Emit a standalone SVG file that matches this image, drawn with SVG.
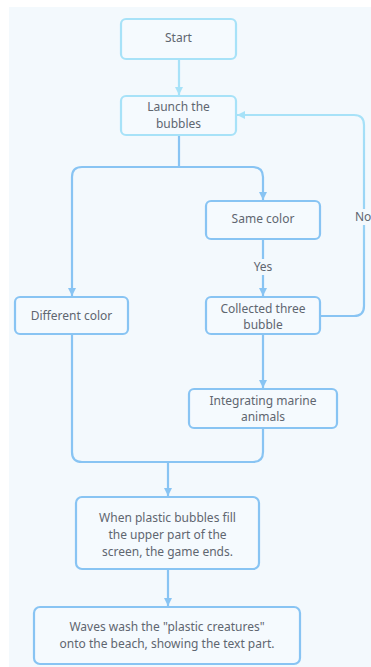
<svg xmlns="http://www.w3.org/2000/svg" width="371" height="667" viewBox="0 0 371 667">
<defs>
<style>
.bg{fill:#f3f9fd}
.n{fill:#f5fafe;stroke:#88c4f3;stroke-width:2.2}
.nc{fill:#f5fafe;stroke:#a7e2f8;stroke-width:2.2}
.c{fill:none;stroke:#88c4f3;stroke-width:2.2}
.cc{fill:none;stroke:#a7e2f8;stroke-width:2.2}
text{font-family:"Noto Sans","Liberation Sans",sans-serif;font-size:12px;fill:#5f6670;text-anchor:middle}
</style>
<marker id="ab" markerWidth="9" markerHeight="8" refX="8" refY="4" orient="auto" markerUnits="userSpaceOnUse">
<path d="M0,0 L8,4 L0,8 Z" fill="#88c4f3"/>
</marker>
<marker id="ac" markerWidth="9" markerHeight="8" refX="8" refY="4" orient="auto" markerUnits="userSpaceOnUse">
<path d="M0,0 L8,4 L0,8 Z" fill="#a7e2f8"/>
</marker>
<linearGradient id="g" x1="0" y1="0" x2="0" y2="1">
<stop offset="0" stop-color="#a7e2f8"/>
<stop offset="1" stop-color="#88c4f3"/>
</linearGradient>
</defs>
<rect x="0" y="0" width="371" height="667" fill="#ffffff"/>
<rect class="bg" x="9" y="7" width="362" height="660"/>
<g id="connectors">
<path class="cc" d="M179,59 V95" marker-end="url(#ac)"/>
<path class="c" d="M179,135 V167 H82 Q72,167 72,177 V296" marker-end="url(#ab)"/>
<path class="c" d="M179,167 H253 Q263,167 263,177 V200" marker-end="url(#ab)"/>
<path class="c" d="M263,239 V296" marker-end="url(#ab)"/>
<rect x="250" y="259" width="26" height="16" class="bg"/>
<text x="263" y="271">Yes</text>
<path d="M320,316 H354 Q364,316 364,306 V125 Q364,115 354,115 H237" fill="none" stroke="url(#g)" stroke-width="2.2" marker-end="url(#ac)"/>
<rect x="354" y="209" width="17" height="16" class="bg"/>
<text x="355" y="221" style="text-anchor:start">No</text>
<path class="c" d="M263,334 V388" marker-end="url(#ab)"/>
<path class="c" d="M72,334 V452 Q72,462 82,462 H253 Q263,462 263,452 V428"/>
<path class="c" d="M168,462 V496" marker-end="url(#ab)"/>
<path class="c" d="M168,569 V606" marker-end="url(#ab)"/>
</g>
<g id="start">
<rect class="nc" x="121" y="19" width="115" height="40" rx="5"/>
<text x="178.5" y="42">Start</text>
</g>
<g id="launch">
<rect class="nc" x="121" y="96" width="115" height="39" rx="5"/>
<text x="178.5" y="111">Launch the</text>
<text x="178.5" y="128">bubbles</text>
</g>
<g id="same">
<rect class="n" x="206" y="201" width="114" height="38" rx="5"/>
<text x="263" y="223">Same color</text>
</g>
<g id="different">
<rect class="n" x="15" y="297" width="113" height="37" rx="5"/>
<text x="71.5" y="320">Different color</text>
</g>
<g id="collected">
<rect class="n" x="206" y="297" width="114" height="37" rx="5"/>
<text x="263" y="313">Collected three</text>
<text x="263" y="329">bubble</text>
</g>
<g id="integrating">
<rect class="n" x="189" y="389" width="148" height="39" rx="5"/>
<text x="263" y="405">Integrating marine</text>
<text x="263" y="421">animals</text>
</g>
<g id="when">
<rect class="n" x="76" y="497" width="183" height="72" rx="6"/>
<text x="167.5" y="522">When plastic bubbles fill</text>
<text x="167.5" y="539">the upper part of the</text>
<text x="167.5" y="556">screen, the game ends.</text>
</g>
<g id="waves">
<rect class="n" x="34" y="607" width="266" height="57" rx="6"/>
<text x="167" y="631">Waves wash the "plastic creatures"</text>
<text x="167" y="648">onto the beach, showing the text part.</text>
</g>
</svg>
